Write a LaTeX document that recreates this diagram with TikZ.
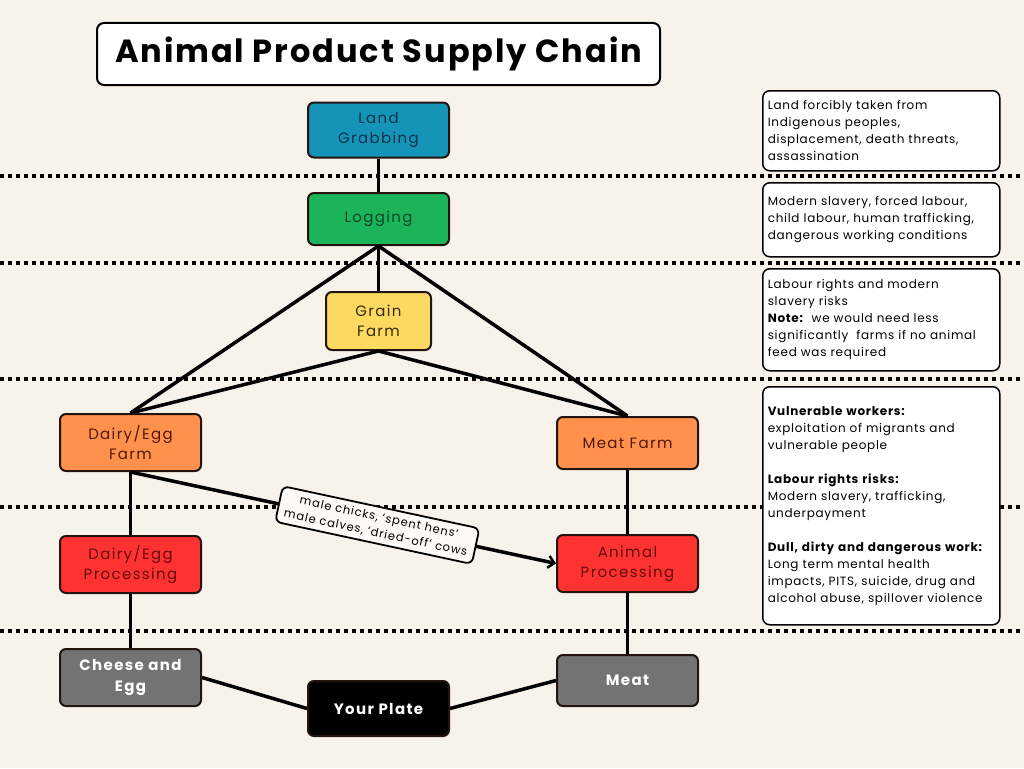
\documentclass[tikz,border=0pt]{standalone}
\usepackage{fontspec}
\setmainfont{Poppins}
\newfontfamily\nodefnt[LetterSpace=9]{Poppins}
\newfontfamily\panelfnt[LetterSpace=6]{Poppins}
\newfontfamily\titlefnt[LetterSpace=6]{Poppins}
\newfontfamily\lblfnt[LetterSpace=8]{Poppins}
\usetikzlibrary{arrows.meta}
\definecolor{bg}{RGB}{248,243,234}
\definecolor{bord}{RGB}{35,20,15}
\definecolor{cteal}{RGB}{22,148,183}
\definecolor{cgreen}{RGB}{28,180,90}
\definecolor{cyellow}{RGB}{252,217,96}
\definecolor{corange}{RGB}{255,145,77}
\definecolor{cred}{RGB}{255,50,50}
\definecolor{cgrey}{RGB}{115,115,115}
\definecolor{tteal}{RGB}{10,50,75}
\definecolor{tgreen}{RGB}{10,70,35}
\definecolor{tyellow}{RGB}{55,42,10}
\definecolor{torange}{RGB}{80,25,10}
\definecolor{tred}{RGB}{100,10,10}
\definecolor{lblfill}{RGB}{253,251,246}
\tikzset{
  box/.style={draw=bord, line width=2pt, rounded corners=6pt, minimum width=141pt, minimum height=55pt,
    align=center, font=\nodefnt\fontsize{15}{20}\selectfont, inner sep=2pt},
  darkbox/.style={box, fill=cgrey, text=white, font=\nodefnt\bfseries\fontsize{15}{21}\selectfont},
  rbox/.style={draw=black, line width=1.5pt, rounded corners=7pt, fill=white, text width=227pt,
    align=left, inner xsep=5pt, anchor=north west, font=\panelfnt\fontsize{12}{17}\selectfont},
  conn/.style={line width=3.5pt, black},
  dotline/.style={line width=4pt, black, dash pattern=on 4pt off 4pt},
  lbl/.style={draw=black, line width=1.8pt, fill=lblfill, rounded corners=6pt, align=center,
    font=\lblfnt\fontsize{11.5}{16}\selectfont, inner xsep=7pt, inner ysep=5pt}
}
\begin{document}
\begin{tikzpicture}[x=1pt,y=-1pt]
\fill[bg] (0,0) rectangle (1024,768);
\useasboundingbox (0,0) rectangle (1024,768);
% dotted separators
\foreach \yy in {176,263,379,507,631}{
  \draw[dotline] (0,\yy) -- (1024,\yy);
}
% title
\node[draw=black, line width=2pt, rounded corners=7pt, fill=white, minimum width=563pt, minimum height=62pt,
  font=\titlefnt\bfseries\fontsize{32}{36}\selectfont] (title) at (378.5,54) {Animal Product Supply Chain};
% nodes
\node[box, fill=cteal, text=tteal] (land) at (378.5,130) {Land\\Grabbing};
\node[box, fill=cgreen, text=tgreen, minimum height=52pt] (log) at (378.5,219) {Logging};
\node[box, fill=cyellow, text=tyellow, minimum width=105pt, minimum height=58pt] (grain) at (378.5,321) {Grain\\Farm};
\node[box, fill=corange, text=torange, minimum height=57pt] (dfarm) at (130.5,442.5) {Dairy/Egg\\Farm};
\node[box, fill=corange, text=torange, minimum height=52pt] (mfarm) at (627.5,443) {Meat Farm};
\node[box, fill=cred, text=tred, minimum height=57pt] (dproc) at (130.5,564.5) {Dairy/Egg\\Processing};
\node[box, fill=cred, text=tred, minimum height=57pt] (aproc) at (627.5,563.5) {Animal\\Processing};
\node[darkbox, minimum height=57pt] (cheese) at (130.5,677.5) {Cheese and\\Egg};
\node[darkbox, minimum height=51pt] (meat) at (627.5,680.5) {Meat};
\node[darkbox, fill=black, minimum height=55pt] (plate) at (378.5,708.5) {Your Plate};
% connectors
\draw[conn] (land) -- (log);
\draw[conn] (log.south) -- (grain.north);
\draw[conn] (log.south) -- (dfarm.north);
\draw[conn] (log.south) -- (mfarm.north);
\draw[conn] (grain.south) -- (dfarm.north);
\draw[conn] (grain.south) -- (mfarm.north);
\draw[conn] (dfarm) -- (dproc);
\draw[conn] (mfarm) -- (aproc);
\draw[conn] (dproc) -- (cheese);
\draw[conn] (aproc) -- (meat);
\draw[conn] (cheese.east) -- (plate.west);
\draw[conn] (meat.west) -- (plate.east);
\draw[conn, -{Straight Barb[length=6pt,width=12pt,line width=2.5pt]}] (dfarm.south) -- node[lbl, sloped, pos=0.58] (note) {male chicks, ‘spent hens’\\male calves, ‘dried-off’ cows} (aproc.west);
% right boxes
\node[rbox, minimum height=80pt] (r1) at (762,90) {Land forcibly taken from\\Indigenous peoples,\\displacement, death threats,\\assassination};
\node[rbox, minimum height=74pt] (r2) at (762,182) {Modern slavery, forced labour,\\child labour, human trafficking,\\dangerous working conditions};
\node[rbox, minimum height=102pt] (r3) at (762,268) {Labour rights and modern\\slavery risks\\\textbf{Note:}\ \ we would need less\\significantly\ \ farms if no animal\\feed was required};
\node[rbox, minimum height=238pt] (r4) at (762,386) {\textbf{Vulnerable workers:}\\exploitation of migrants and\\vulnerable people\\[17pt]\textbf{Labour rights risks:}\\Modern slavery, trafficking,\\underpayment\\[17pt]\textbf{Dull, dirty and dangerous work:}\\Long term mental health\\impacts, PITS, suicide, drug and\\alcohol abuse, spillover violence};
\end{tikzpicture}
\end{document}
